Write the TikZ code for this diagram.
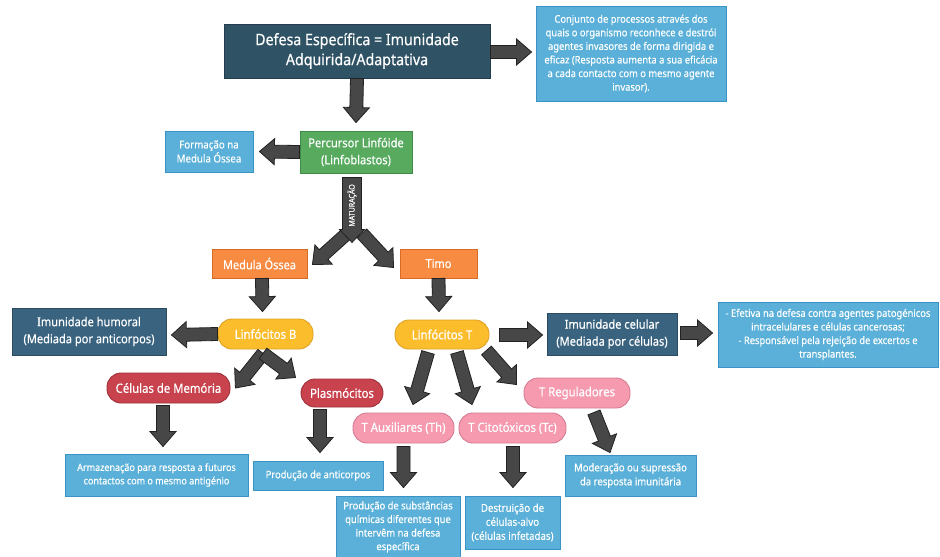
\documentclass[tikz,border=0pt]{standalone}
\usepackage{fontspec}
\setmainfont{Noto Sans}[FakeStretch=0.9, FakeBold=0.35]
\usetikzlibrary{calc}

\definecolor{tealdark}{HTML}{2F5265}
\definecolor{tealmid}{HTML}{3A6380}
\definecolor{skyfill}{HTML}{5AB0D8}
\definecolor{skyedge}{HTML}{3A93C4}
\definecolor{greenfill}{HTML}{58AA5F}
\definecolor{greenedge}{HTML}{3F8B47}
\definecolor{orangefill}{HTML}{F78B42}
\definecolor{orangeedge}{HTML}{D86B28}
\definecolor{yellowfill}{HTML}{FCBD2D}
\definecolor{yellowedge}{HTML}{DFA225}
\definecolor{redfill}{HTML}{C8434E}
\definecolor{rededge}{HTML}{9E3039}
\definecolor{pinkfill}{HTML}{F69AB0}
\definecolor{pinkedge}{HTML}{D57C92}
\definecolor{arrowfill}{HTML}{474747}
\definecolor{arrowedge}{HTML}{222222}

\tikzset{
  base/.style={draw, line width=0.9pt, inner sep=2pt, align=center, text=white},
  darkbox/.style={base, fill=tealdark, draw=tealdark!75!black},
  midbox/.style={base, fill=tealmid, draw=tealmid!75!black,
    font=\fontsize{12.3}{17}\selectfont},
  skybox/.style={base, fill=skyfill, draw=skyedge,
    font=\fontsize{10.4}{13.6}\selectfont},
  greenbox/.style={base, fill=greenfill, draw=greenedge,
    font=\fontsize{12.3}{17}\selectfont},
  orangebox/.style={base, fill=orangefill, draw=orangeedge,
    font=\fontsize{12.2}{15}\selectfont},
  pill/.style={base, rounded corners=14pt, font=\fontsize{12.6}{15}\selectfont},
  yellowpill/.style={pill, fill=yellowfill, draw=yellowedge},
  redpill/.style={pill, fill=redfill, draw=rededge},
  pinkpill/.style={pill, fill=pinkfill, draw=pinkedge},
  fatarrow/.style={fill=arrowfill, draw=arrowedge, line width=0.8pt, line join=miter},
}

% block arrow from #2 to #3 (tip), with half shaft width, half head width, head length
\def\fashaft{6.5pt}
\def\fawing{13pt}
\def\fahead{15pt}
\newcommand\fatarrow[3][]{%
  \coordinate (fa-s) at (#2);
  \coordinate (fa-t) at (#3);
  \coordinate (fa-h) at ($(fa-t)!\fahead!(fa-s)$);
  \filldraw[fatarrow,#1]
    ($(fa-s)!\fashaft!90:(fa-t)$) -- ($(fa-h)!\fashaft!90:(fa-t)$) --
    ($(fa-h)!\fawing!90:(fa-t)$) -- (fa-t) --
    ($(fa-h)!\fawing!-90:(fa-t)$) -- ($(fa-h)!\fashaft!-90:(fa-t)$) --
    ($(fa-s)!\fashaft!-90:(fa-t)$) -- cycle;
}

\begin{document}
\begin{tikzpicture}[x=1pt,y=-1pt]
\fill[white] (0,0) rectangle (940,557);
\useasboundingbox (0,0) rectangle (940,557);

% ---- boxes ----
\node[darkbox, minimum width=266, minimum height=54,
  font=\fontsize{15.8}{20}\selectfont] (top) at (357,51)
  {Defesa Específica = Imunidade\\Adquirida/Adaptativa};
\node[skybox, minimum width=190, minimum height=95] (def) at (631,53.5)
  {Conjunto de processos através dos\\quais o organismo reconhece e destrói\\agentes invasores de forma dirigida e\\eficaz (Resposta aumenta a sua eficácia\\a cada contacto com o mesmo agente\\invasor).};
\node[greenbox, minimum width=112, minimum height=42] (perc) at (356,152)
  {Percursor Linfóide\\(Linfoblastos)};
\node[skybox, minimum width=88, minimum height=41,
  font=\fontsize{10.8}{14}\selectfont] (form) at (209,151.5)
  {Formação na\\Medula Óssea};
\node[orangebox, minimum width=95, minimum height=29] (medula) at (259.5,263.5)
  {Medula Óssea};
\node[orangebox, minimum width=77, minimum height=29] (timo) at (438.5,263.5)
  {Timo};
\node[yellowpill, minimum width=95, minimum height=30] (linfB) at (265.5,334)
  {Linfócitos B};
\node[midbox, minimum width=154, minimum height=47] (humoral) at (89,331.5)
  {Imunidade humoral\\(Mediada por anticorpos)};
\node[redpill, minimum width=123, minimum height=30] (memoria) at (168.5,388)
  {Células de Memória};
\node[redpill, minimum width=82, minimum height=28] (plasmo) at (342,393)
  {Plasmócitos};
\node[skybox, minimum width=183, minimum height=42,
  font=\fontsize{10}{13.4}\selectfont] (armaz) at (156.5,475)
  {Armazenação para resposta a futuros\\contactos com o mesmo antigénio};
\node[skybox, minimum width=130, minimum height=29] (prodac) at (318,475.5)
  {Produção de anticorpos};
\node[yellowpill, minimum width=94, minimum height=29] (linfT) at (442,334.5)
  {Linfócitos T};
\node[midbox, minimum width=130, minimum height=42] (celular) at (612,334)
  {Imunidade celular\\(Mediada por células)};
\node[skybox, minimum width=220, minimum height=65] (celinfo) at (828,334.5)
  {- Efetiva na defesa contra agentes patogénicos\\intracelulares e células cancerosas;\\- Responsável pela rejeição de excertos e\\transplantes.};
\node[pinkpill, minimum width=101, minimum height=30] (taux) at (403.5,428)
  {T Auxiliares (Th)};
\node[pinkpill, minimum width=107, minimum height=30] (tcito) at (512.5,428)
  {T Citotóxicos (Tc)};
\node[pinkpill, minimum width=106, minimum height=30] (treg) at (577,393)
  {T Reguladores};
\node[skybox, minimum width=124, minimum height=62] (prodsub) at (398,527)
  {Produção de substâncias\\químicas diferentes que\\intervêm na defesa\\específica};
\node[skybox, minimum width=95, minimum height=53,
  font=\fontsize{10.8}{14}\selectfont] (destr) at (512.5,522.5)
  {Destruição de\\células-alvo\\(células infetadas)};
\node[skybox, minimum width=131, minimum height=41,
  font=\fontsize{10.6}{14}\selectfont] (moder) at (630.5,475.5)
  {Moderação ou supressão\\da resposta imunitária};

% ---- block arrows ----
\fatarrow{$(top.east)+(0,1)$}{$(def.west)+(-4,-1.5)$}
\fatarrow{top.south}{$(perc.north)+(0,-8)$}
\fatarrow{perc.west}{$(form.east)+(6,0)$}

% maturation: split towards bone marrow and thymus, then the labelled stem on top
\coordinate (matend) at ($(perc.south)+(-4,60)$);
\fatarrow{$(matend)+(-5,0)$}{$(medula.north east)+(5,16)$}
\fatarrow{$(matend)+(10,0)$}{$(timo.north west)+(-6,19)$}
\begin{scope}
  \def\fashaft{9.5pt}\def\fawing{12.5pt}\def\fahead{13pt}
  \fatarrow{$(perc.south)+(-4,4)$}{$(perc.south)+(-4,69)$}
\end{scope}
\node[text=white, rotate=90, font=\fontsize{7.8}{8}\selectfont, inner sep=0pt]
  (matlabel) at ($(perc.south)+(-4,32)$) {MATURAÇÃO};

\fatarrow{$(medula.south)+(2.5,0)$}{$(linfB.north)+(-3,-7)$}
\fatarrow{timo.south}{$(linfT.north)+(-3,-8)$}
\fatarrow{linfB.west}{$(humoral.east)+(5,3.5)$}

% B lymphocyte chevron
\coordinate (bsplit) at ($(linfB.south)+(-2.5,4)$);
\fatarrow{bsplit}{$(memoria.east)+(5,0)$}
\fatarrow{bsplit}{$(plasmo.north west)+(-5,-1)$}

\fatarrow{$(memoria.south)+(-5.5,2)$}{$(armaz.north)+(6.5,-7)$}
\fatarrow{$(plasmo.south)+(-22,2)$}{$(prodac.north)+(2,-8)$}

\fatarrow{$(linfT.east)+(10,0.5)$}{$(celular.west)+(-4,1)$}
\fatarrow{$(celular.east)+(3,-1)$}{$(celinfo.west)+(-5,-1.5)$}

\fatarrow{$(linfT.south)+(-14,3)$}{$(taux.north)+(9.5,-8)$}
\fatarrow{$(linfT.south)+(15,3)$}{$(tcito.north)+(-40.5,-8)$}
\fatarrow{$(linfT.south east)+(-3,1)$}{$(treg.north west)+(-7,7)$}

\fatarrow{$(taux.south)+(0,3)$}{$(prodsub.north)+(5.5,-8)$}
\fatarrow{$(tcito.south)+(0.5,3)$}{$(destr.north)+(0.5,-8)$}
\fatarrow{$(treg.south)+(17,4)$}{$(moder.north)+(-20.5,-2)$}
\end{tikzpicture}
\end{document}
